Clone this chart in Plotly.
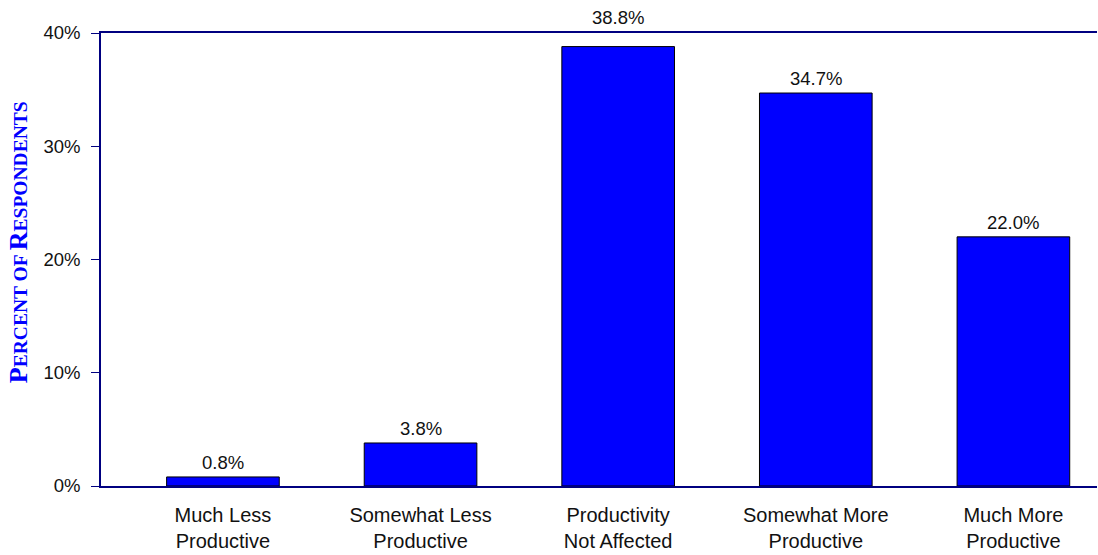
import plotly.graph_objects as go

categories = [
    "Much Less<br>Productive",
    "Somewhat Less<br>Productive",
    "Productivity<br>Not Affected",
    "Somewhat More<br>Productive",
    "Much More<br>Productive",
]
percent = [0.8, 3.8, 38.8, 34.7, 22.0]
y_ticks = [0, 10, 20, 30, 40]

font_family = "Liberation Sans, Arial"
navy = "#000080"
positions = list(range(len(categories)))
y_max = y_ticks[-1]

fig = go.Figure(
    go.Bar(
        x=positions,
        y=percent,
        width=0.57,
        marker=dict(color="#0000FF", line=dict(color="#000000", width=1)),
        cliponaxis=False,
    )
)

# value labels above bars; a label that would hit the top frame is lifted above it
for pos, val in zip(positions, percent):
    fig.add_annotation(
        x=pos,
        y=val,
        xref="x",
        yref="y",
        text=f"{val:.1f}%",
        showarrow=False,
        yanchor="bottom",
        yshift=17 if y_max - val < 2.5 else 2,
        font=dict(size=18.5, color="#111111", family=font_family),
    )

fig.add_annotation(
    text="P<span style='font-size:19.5px'>ERCENT OF </span>R<span style='font-size:19.5px'>ESPONDENTS</span>",
    xref="paper",
    yref="paper",
    x=-0.082,
    y=0.539,
    textangle=-90,
    showarrow=False,
    font=dict(family="Liberation Serif, Times New Roman, serif", size=26, color="#0000FF", weight="bold"),
    xanchor="center",
    yanchor="middle",
)

fig.update_layout(
    width=1098,
    height=555,
    margin=dict(l=101, r=1, t=33, b=69),
    plot_bgcolor="white",
    paper_bgcolor="white",
    showlegend=False,
    font=dict(family=font_family, size=19, color="#111111"),
    xaxis=dict(
        tickmode="array",
        tickvals=positions,
        ticktext=categories,
        range=[-0.617, 4.423],
        showline=True,
        linecolor=navy,
        linewidth=1.5,
        mirror=True,
        ticks="",
        ticklabelstandoff=10,
        showgrid=False,
        tickfont=dict(size=20, family=font_family, color="#111111"),
    ),
    yaxis=dict(
        range=[0, y_max],
        tickmode="array",
        tickvals=y_ticks,
        ticktext=[f"{v}%" for v in y_ticks],
        showline=True,
        linecolor=navy,
        linewidth=1.5,
        ticks="outside",
        tickcolor=navy,
        ticklen=8,
        ticklabelstandoff=7,
        showgrid=False,
        zeroline=False,
        tickfont=dict(size=18.5, family=font_family, color="#111111"),
    ),
)

fig.write_html(
    "out.html",
    config={"displayModeBar": False},
    post_script="document.body.style.margin='0';document.body.style.overflow='hidden';",
)
